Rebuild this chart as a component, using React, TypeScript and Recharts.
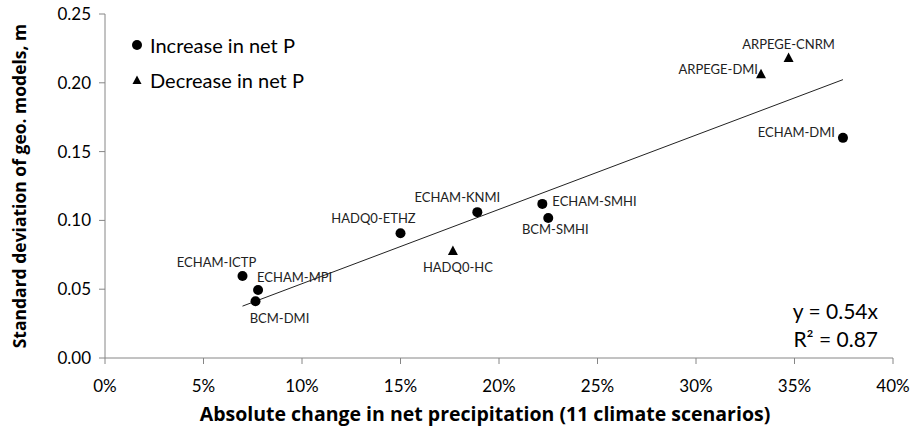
import React from 'react';
import { ScatterChart, Scatter, XAxis, YAxis } from 'recharts';

document.body.style.margin = '0';

// Models with an increase in net P
const increaseNames = ['ECHAM-ICTP', 'ECHAM-MPI', 'BCM-DMI', 'HADQ0-ETHZ', 'ECHAM-KNMI', 'ECHAM-SMHI', 'BCM-SMHI', 'ECHAM-DMI'];
const increaseX = [0.0698, 0.0777, 0.0764, 0.150, 0.189, 0.222, 0.225, 0.3746];
const increaseY = [0.0596, 0.0494, 0.0412, 0.0906, 0.106, 0.112, 0.1018, 0.160];

// Models with a decrease in net P
const decreaseNames = ['HADQ0-HC', 'ARPEGE-DMI', 'ARPEGE-CNRM'];
const decreaseX = [0.1766, 0.333, 0.347];
const decreaseY = [0.0778, 0.2062, 0.218];

// Linear trend y = 0.54x, drawn between the outer points
const trendX = [0.0698, 0.3746];
const trendY = [0.0377, 0.2023];

const xTicks = [0, 0.05, 0.1, 0.15, 0.2, 0.25, 0.3, 0.35, 0.4];
const yTicks = [0, 0.05, 0.1, 0.15, 0.2, 0.25];

// where each model name sits relative to its marker
const LABEL_POS: Record<string, { dx: number; dy: number; anchor: 'start' | 'middle' | 'end' }> = {
  'ECHAM-ICTP': { dx: -26, dy: -14, anchor: 'middle' },
  'ECHAM-MPI': { dx: -1, dy: -13, anchor: 'start' },
  'BCM-DMI': { dx: 24, dy: 17, anchor: 'middle' },
  'HADQ0-ETHZ': { dx: -27, dy: -15, anchor: 'middle' },
  'ECHAM-KNMI': { dx: -20, dy: -15, anchor: 'middle' },
  'ECHAM-SMHI': { dx: 10, dy: -3, anchor: 'start' },
  'BCM-SMHI': { dx: 7, dy: 11, anchor: 'middle' },
  'ECHAM-DMI': { dx: -8, dy: -6, anchor: 'end' },
  'HADQ0-HC': { dx: 5, dy: 16, anchor: 'middle' },
  'ARPEGE-DMI': { dx: -3, dy: -5, anchor: 'end' },
  'ARPEGE-CNRM': { dx: 0, dy: -14, anchor: 'middle' },
};

const FONT = 'Lato, "Open Sans", sans-serif';
const TITLE_FONT = '"Open Sans", Lato, sans-serif';

const increaseData = increaseNames.map((name, i) => ({ name, x: increaseX[i], y: increaseY[i] }));
const decreaseData = decreaseNames.map((name, i) => ({ name, x: decreaseX[i], y: decreaseY[i] }));
const trendData = trendX.map((x, i) => ({ x, y: trendY[i] }));

const NameLabel = ({ cx, cy, name }: { cx: number; cy: number; name: string }) => {
  const p = LABEL_POS[name] || { dx: 0, dy: -12, anchor: 'middle' };
  return (
    <text x={cx + p.dx} y={cy + p.dy} textAnchor={p.anchor} dominantBaseline="central" fontSize={13} fontFamily={FONT} fill="#222">
      {name}
    </text>
  );
};

const DotShape = (props: any) => {
  const { cx, cy, payload } = props;
  return (
    <g>
      <circle cx={cx} cy={cy} r={5} fill="#000" />
      <NameLabel cx={cx} cy={cy} name={payload.name} />
    </g>
  );
};

const TriShape = (props: any) => {
  const { cx, cy, payload } = props;
  return (
    <g>
      <polygon points={`${cx},${cy - 5.5} ${cx - 5},${cy + 4} ${cx + 5},${cy + 4}`} fill="#000" />
      <NameLabel cx={cx} cy={cy} name={payload.name} />
    </g>
  );
};

export default function App() {
  return (
    <div style={{ position: 'relative', width: 913, height: 428, background: '#fff' }}>
      <ScatterChart width={913} height={428} margin={{ top: 14, right: 20, bottom: 0, left: 0 }}>
        <XAxis
          type="number"
          dataKey="x"
          domain={[0, 0.4]}
          ticks={xTicks}
          tickFormatter={(v) => `${Math.round(v * 100)}%`}
          height={70}
          stroke="#868686"
          tickSize={6}
          tick={{ fill: '#000', fontSize: 17, fontFamily: FONT, dy: 14 }}
          allowDataOverflow
        />
        <XAxis xAxisId="top" orientation="top" type="number" domain={[0, 0.4]} tick={false} tickLine={false} height={0} stroke="#6b6b6b" />
        <YAxis
          type="number"
          dataKey="y"
          domain={[0, 0.25]}
          ticks={yTicks}
          tickFormatter={(v) => v.toFixed(2)}
          width={105}
          stroke="#868686"
          tickSize={6}
          tick={{ fill: '#000', fontSize: 17, fontFamily: FONT, dx: -6 }}
        />
        <YAxis yAxisId="right" orientation="right" type="number" domain={[0, 0.25]} tick={false} tickLine={false} width={0} stroke="#6b6b6b" />
        <Scatter data={trendData} line={{ stroke: '#222', strokeWidth: 1 }} shape={() => <g />} isAnimationActive={false} />
        <Scatter data={increaseData} shape={DotShape} isAnimationActive={false} />
        <Scatter data={decreaseData} shape={TriShape} isAnimationActive={false} />
      </ScatterChart>
      <svg width={913} height={428} style={{ position: 'absolute', left: 0, top: 0, pointerEvents: 'none' }}>
        {/* legend */}
        <circle cx={137} cy={45} r={5} fill="#000" />
        <text x={150} y={45} dominantBaseline="central" fontSize={20} fontFamily={FONT} fill="#000">Increase in net P</text>
        <polygon points="137,75.5 132.5,84 141.5,84" fill="#000" />
        <text x={150} y={80} dominantBaseline="central" fontSize={20} fontFamily={FONT} fill="#000">Decrease in net P</text>
        {/* trend equation */}
        <text x={878} y={310} textAnchor="end" dominantBaseline="central" fontSize={21} fontFamily={FONT} fill="#000">y = 0.54x</text>
        <text x={878} y={338} textAnchor="end" dominantBaseline="central" fontSize={21} fontFamily={FONT} fill="#000">R² = 0.87</text>
        {/* axis titles */}
        <text x={485} y={413} textAnchor="middle" dominantBaseline="central" fontSize={19.5} fontWeight="bold" fontFamily={TITLE_FONT} fill="#000">
          Absolute change in net precipitation (11 climate scenarios)
        </text>
        <text
          x={19}
          y={186}
          textAnchor="middle"
          dominantBaseline="central"
          fontSize={17.5}
          fontWeight="bold"
          fontFamily={TITLE_FONT}
          fill="#000"
          transform="rotate(-90 19 186)"
        >
          Standard deviation of geo. models, m
        </text>
      </svg>
    </div>
  );
}
